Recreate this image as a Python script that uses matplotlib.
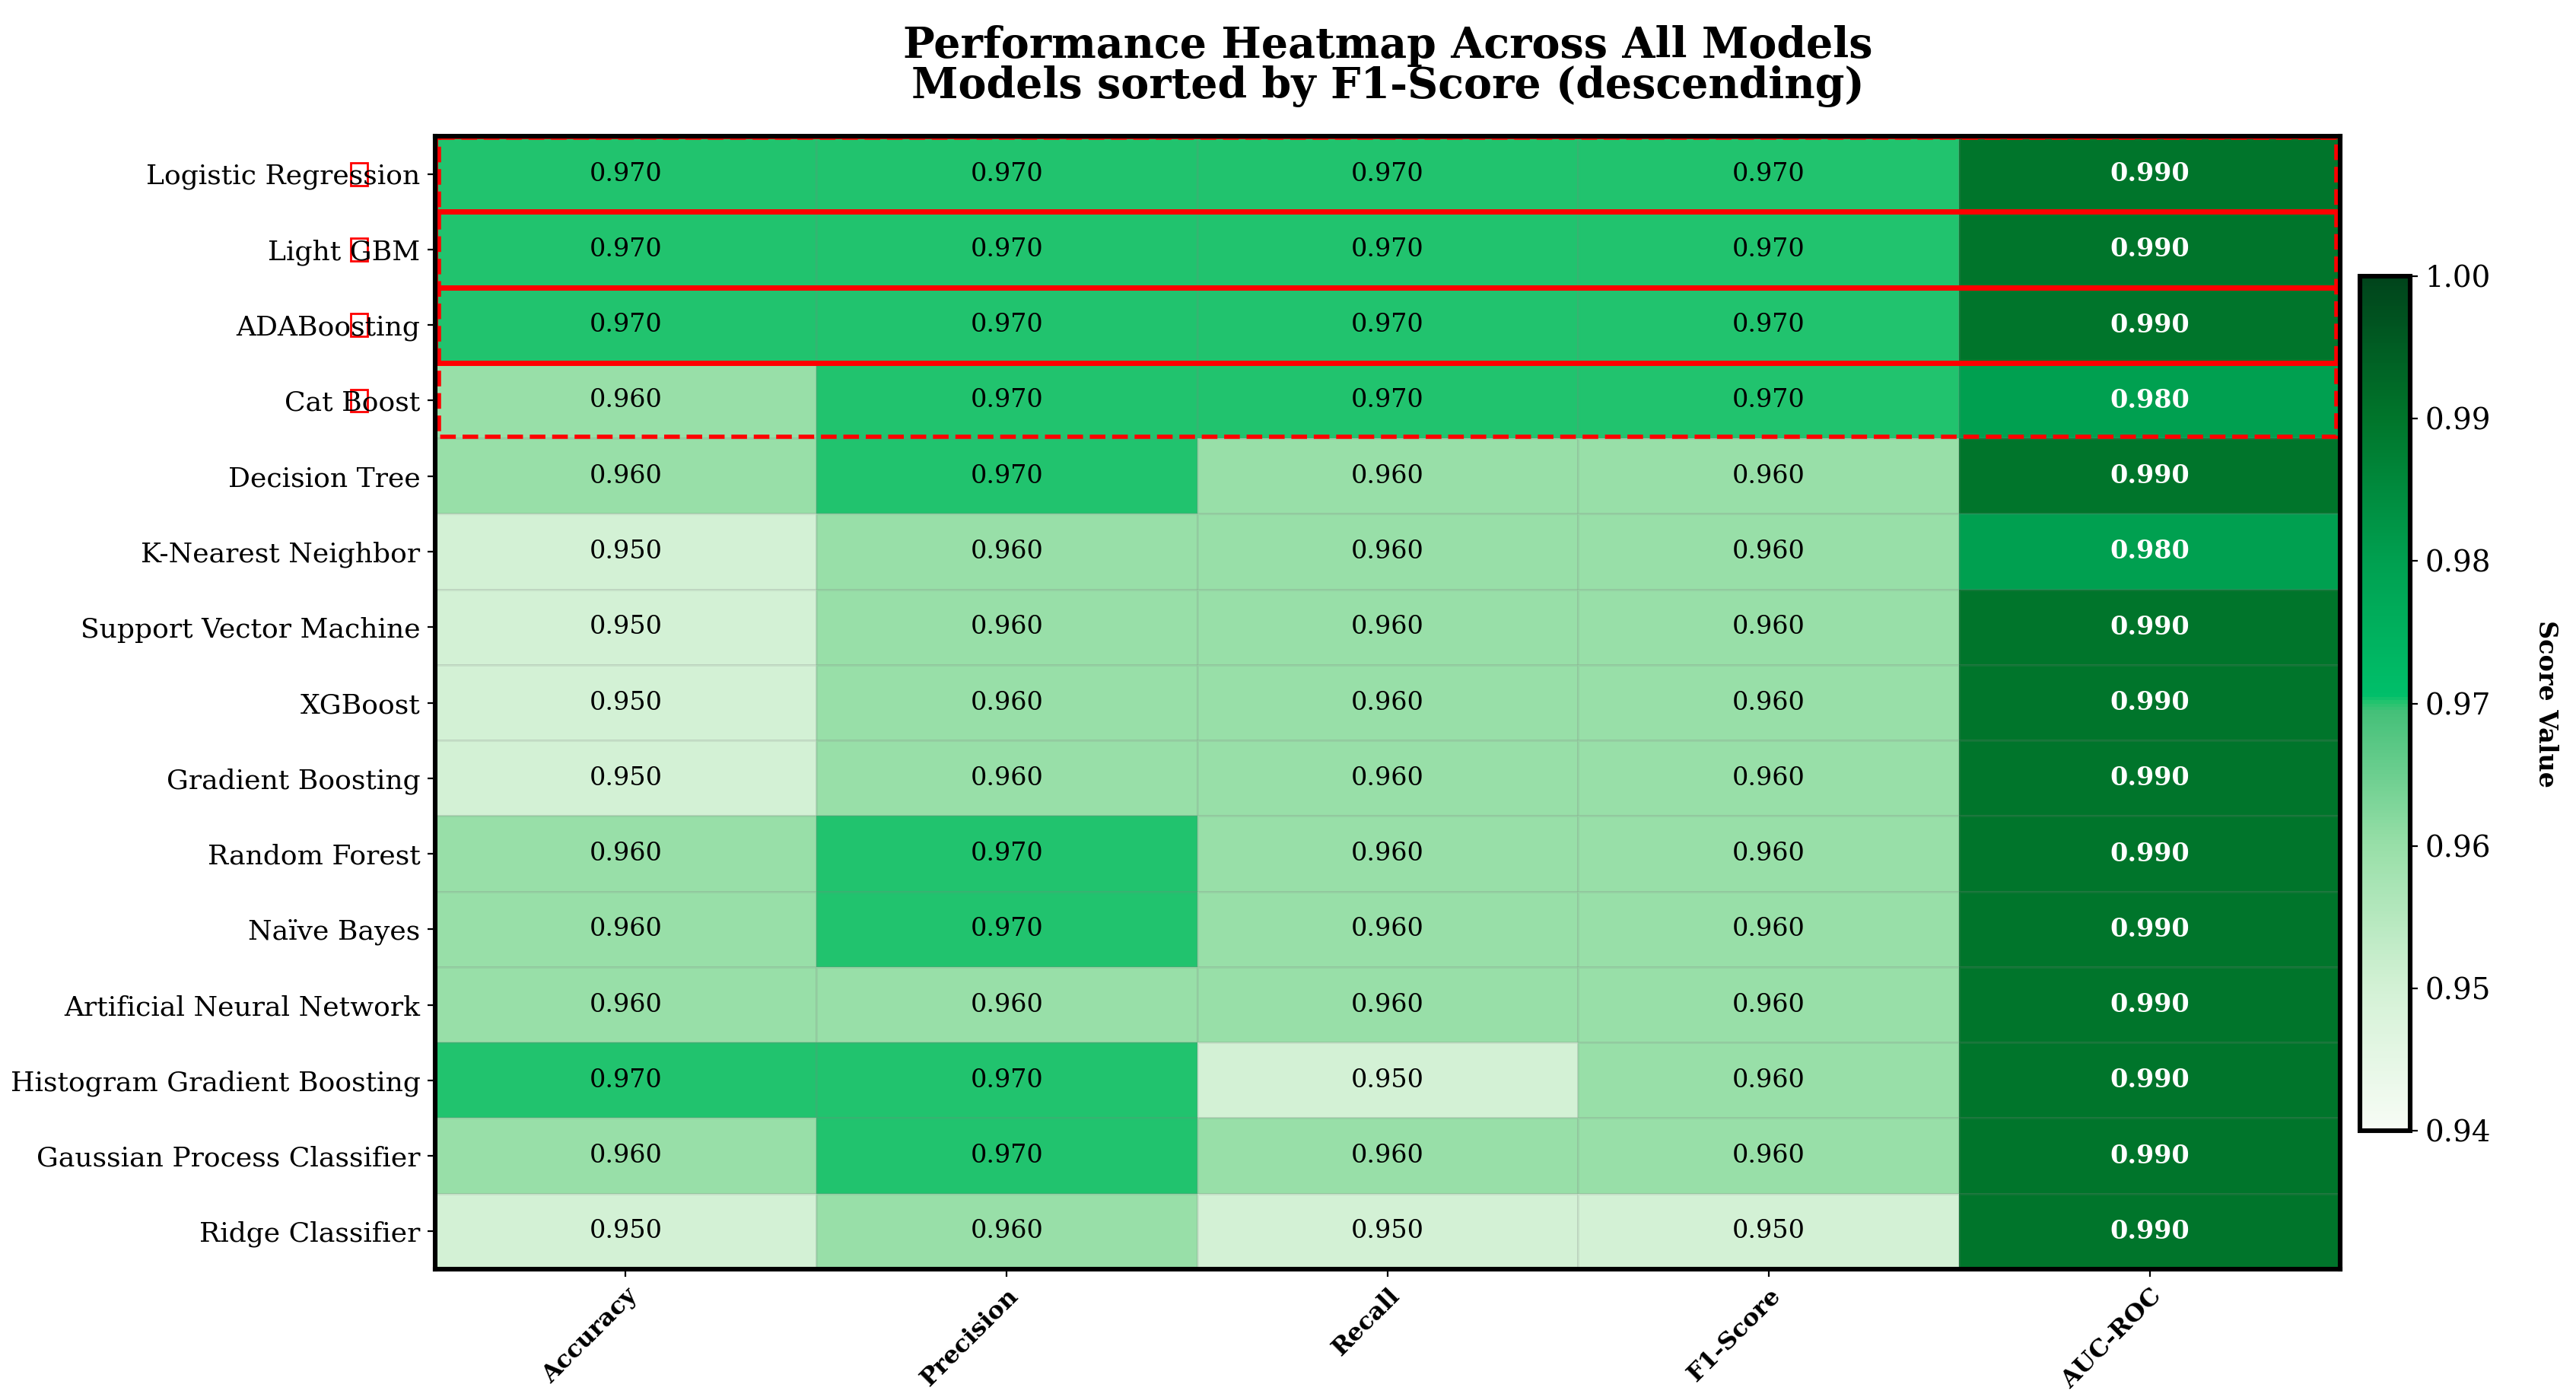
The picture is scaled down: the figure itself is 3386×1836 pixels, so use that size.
import numpy as np
import matplotlib
matplotlib.use('Agg')
import matplotlib.pyplot as plt
from matplotlib.colors import LinearSegmentedColormap
from matplotlib.patches import Rectangle
import matplotlib.transforms as mtransforms

plt.rcParams['font.family'] = 'DejaVu Serif'

# models sorted by F1-score
models = ['Logistic Regression', 'Light GBM', 'ADABoosting', 'Cat Boost', 'Decision Tree',
          'K-Nearest Neighbor', 'Support Vector Machine', 'XGBoost', 'Gradient Boosting',
          'Random Forest', 'Naïve Bayes', 'Artificial Neural Network',
          'Histogram Gradient Boosting', 'Gaussian Process Classifier', 'Ridge Classifier']
metrics = ['Accuracy', 'Precision', 'Recall', 'F1-Score', 'AUC-ROC']

accuracy  = [0.97, 0.97, 0.97, 0.96, 0.96, 0.95, 0.95, 0.95, 0.95, 0.96, 0.96, 0.96, 0.97, 0.96, 0.95]
precision = [0.97, 0.97, 0.97, 0.97, 0.97, 0.96, 0.96, 0.96, 0.96, 0.97, 0.97, 0.96, 0.97, 0.97, 0.96]
recall    = [0.97, 0.97, 0.97, 0.97, 0.96, 0.96, 0.96, 0.96, 0.96, 0.96, 0.96, 0.96, 0.95, 0.96, 0.95]
f1_score  = [0.97, 0.97, 0.97, 0.97, 0.96, 0.96, 0.96, 0.96, 0.96, 0.96, 0.96, 0.96, 0.96, 0.96, 0.95]
auc_roc   = [0.99, 0.99, 0.99, 0.98, 0.99, 0.98, 0.99, 0.99, 0.99, 0.99, 0.99, 0.99, 0.99, 0.99, 0.99]

data = np.column_stack([accuracy, precision, recall, f1_score, auc_roc])
n_rows, n_cols = data.shape

vmin, vmax = 0.94, 1.00
cmap = LinearSegmentedColormap.from_list('perf', [
    (0.0, '#f7fcf5'),
    (1 / 6, '#d3f1d5'),
    (2 / 6, '#98dfa8'),
    (0.49, '#45c079'),
    (0.5, '#29c46f'),
    (0.51, '#00bf6a'),
    (4 / 6, '#00a050'),
    (5 / 6, '#00762b'),
    (1.0, '#00441b'),
])

fig = plt.figure(figsize=(3387 / 200, 1836 / 200), dpi=200)
ax = fig.add_axes([0.1689, 0.0915, 0.7393, 0.811])
cax = fig.add_axes([0.9159, 0.1906, 0.0195, 0.6117])

mesh = ax.pcolormesh(np.arange(n_cols + 1), np.arange(n_rows + 1), data,
                     cmap=cmap, vmin=vmin, vmax=vmax,
                     edgecolors=(0.5, 0.5, 0.5, 0.15), linewidth=0.5)
ax.set_xlim(0, n_cols)
ax.set_ylim(n_rows, 0)

# cell annotations
for i in range(n_rows):
    for j in range(n_cols):
        v = data[i, j]
        if v >= 0.98:
            ax.text(j + 0.5, i + 0.5, f'{v:.3f}', ha='center', va='center',
                    color='white', fontsize=12, fontweight='bold')
        else:
            ax.text(j + 0.5, i + 0.5, f'{v:.3f}', ha='center', va='center',
                    color='black', fontsize=12)

ax.set_xticks(np.arange(n_cols) + 0.5)
ax.set_xticklabels(metrics, rotation=45, ha='right', rotation_mode='anchor',
                   fontsize=11.5, fontweight='bold')
ax.set_yticks(np.arange(n_rows) + 0.5)
ax.set_yticklabels(models, fontsize=13)

for s in ax.spines.values():
    s.set_linewidth(2.2)
    s.set_color('black')

# highlight top models
for i in range(3):
    ax.add_patch(Rectangle((0, i), n_cols, 1, fill=False, edgecolor='red', linewidth=2.5))
ax.add_patch(Rectangle((0.01, 0.02), n_cols - 0.02, 3.96, fill=False, edgecolor='red',
                       linewidth=2, linestyle='--'))

# small markers next to top labels
trans = mtransforms.blended_transform_factory(ax.transAxes, ax.transData)
for i in range(4):
    ax.add_patch(Rectangle((-0.0445, i + 0.35), 0.009, 0.30, transform=trans, fill=False,
                           edgecolor='red', linewidth=1, clip_on=False))

ax.set_title('Performance Heatmap Across All Models\nModels sorted by F1-Score (descending)',
             fontsize=20, fontweight='bold', pad=18, linespacing=0.95)

cb = fig.colorbar(mesh, cax=cax)
cb.outline.set_linewidth(2.2)
cb.set_ticks([0.94, 0.95, 0.96, 0.97, 0.98, 0.99, 1.00])
cb.ax.tick_params(labelsize=14)
cb.set_label('Score Value', rotation=270, labelpad=32, fontsize=12, fontweight='bold')

fig.savefig('out.png', dpi=200)
